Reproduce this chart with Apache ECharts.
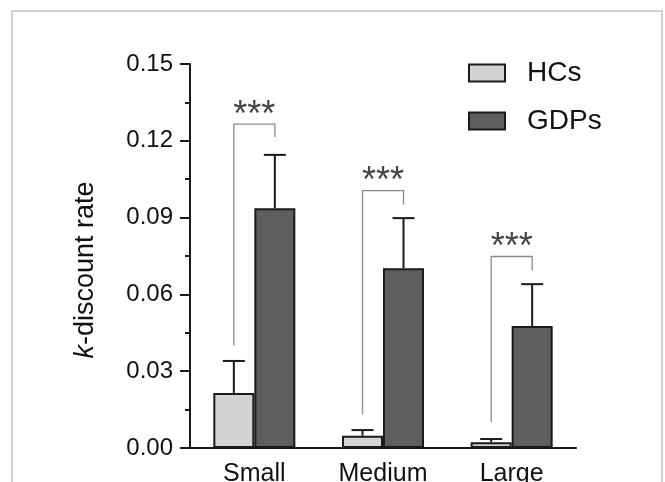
<!DOCTYPE html>
<html>
<head>
<meta charset="utf-8">
<script src="https://cdn.jsdelivr.net/npm/echarts@6/dist/echarts.min.js"></script>
<style>
  html, body { margin: 0; padding: 0; background: #fff; }
  #chart { width: 665px; height: 482px; }
</style>
</head>
<body>
<div id="chart"></div>
<script>
var categories = ['Small', 'Medium', 'Large'];
var hcMean = [0.0215, 0.0048, 0.0022];
var hcErr = [0.0340, 0.0070, 0.0035];
var gdpMean = [0.0937, 0.0702, 0.0477];
var gdpErr = [0.1145, 0.0898, 0.0640];
// bracket: [category, left foot, top, right foot]
var brackets = [
    [0, 0.040, 0.1265, 0.1215],
    [1, 0.0132, 0.1005, 0.0950],
    [2, 0.0102, 0.0748, 0.0693]
];
var starsY = [0.1298, 0.1037, 0.0781];
var yTicks = { min: 0, max: 0.15, interval: 0.03 };

var FONT = '"Liberation Sans", Arial, sans-serif';
var BAR_W = 41;

function errorSeries(name, means, tops, side) {
    var data = means.map(function (m, i) { return [i, m, tops[i]]; });
    return {
        type: 'custom',
        name: name + ' err',
        silent: true,
        z: 1,
        data: data,
        renderItem: function (params, api) {
            var base = api.coord([api.value(0), api.value(1)]);
            var top = api.coord([api.value(0), api.value(2)]);
            var x = base[0] + side * BAR_W / 2;
            return {
                type: 'group',
                children: [
                    { type: 'line', shape: { x1: x, y1: base[1], x2: x, y2: top[1] },
                      style: { stroke: '#1a1a1a', lineWidth: 2 } },
                    { type: 'line', shape: { x1: x - 11, y1: top[1], x2: x + 11, y2: top[1] },
                      style: { stroke: '#1a1a1a', lineWidth: 2 } }
                ]
            };
        }
    };
}

var chart = echarts.init(document.getElementById('chart'));
chart.setOption({
    animation: false,
    backgroundColor: '#fff',
    textStyle: { fontFamily: FONT },
    graphic: [{
        type: 'rect',
        shape: { x: 12, y: 11, width: 650, height: 500 },
        style: { fill: 'none', stroke: '#cfcfcf', lineWidth: 2 },
        silent: true
    }],
    grid: { left: 190, right: 89, top: 64, bottom: 34, outerBoundsMode: 'none', containLabel: false },
    legend: {
        orient: 'vertical',
        left: 468,
        top: 59,
        padding: 0,
        itemWidth: 36,
        itemHeight: 17,
        itemGap: 20,
        icon: 'rect',
        textStyle: { fontSize: 28, color: '#111', padding: [0, 0, 0, 17] },
        data: ['HCs', 'GDPs']
    },
    xAxis: {
        type: 'category',
        data: categories,
        axisLine: { lineStyle: { color: '#1a1a1a', width: 2 } },
        axisTick: { show: false },
        axisLabel: { fontSize: 25, color: '#111', margin: 14 }
    },
    yAxis: {
        type: 'value',
        min: yTicks.min,
        max: yTicks.max,
        interval: yTicks.interval,
        name: '{i|k}-discount rate',
        nameLocation: 'middle',
        nameGap: 91,
        nameTextStyle: {
            fontSize: 27, color: '#111', padding: [0, 28, 0, 0],
            rich: { i: { fontSize: 27, fontStyle: 'italic', color: '#111' } }
        },
        axisLine: { show: true, lineStyle: { color: '#1a1a1a', width: 2 } },
        axisTick: { show: true, length: 10, lineStyle: { color: '#1a1a1a', width: 2 } },
        minorTick: { show: true, splitNumber: 2, length: 5, lineStyle: { color: '#1a1a1a', width: 2 } },
        splitLine: { show: false },
        axisLabel: {
            fontSize: 24, color: '#111', margin: 17,
            formatter: function (v) { return v.toFixed(2); }
        }
    },
    series: [
        {
            type: 'bar', name: 'HCs', data: hcMean,
            barWidth: BAR_W, barGap: '0%', z: 2,
            itemStyle: { color: '#d3d3d3', borderColor: '#1a1a1a', borderWidth: 2 }
        },
        {
            type: 'bar', name: 'GDPs', data: gdpMean,
            barWidth: BAR_W, barGap: '0%', z: 2,
            itemStyle: { color: '#5e5e5e', borderColor: '#1a1a1a', borderWidth: 2 }
        },
        errorSeries('HCs', hcMean, hcErr, -1),
        errorSeries('GDPs', gdpMean, gdpErr, 1),
        {
            type: 'custom',
            name: 'sig',
            silent: true,
            z: 3,
            data: brackets.map(function (b, i) { return b.concat([starsY[i]]); }),
            renderItem: function (params, api) {
                var c = api.value(0);
                var lf = api.coord([c, api.value(1)]);
                var tp = api.coord([c, api.value(2)]);
                var rf = api.coord([c, api.value(3)]);
                var st = api.coord([c, api.value(4)]);
                var xl = lf[0] - BAR_W / 2, xr = lf[0] + BAR_W / 2;
                return {
                    type: 'group',
                    children: [
                        { type: 'polyline',
                          shape: { points: [[xl, lf[1]], [xl, tp[1]], [xr, tp[1]], [xr, rf[1]]] },
                          style: { stroke: '#8a8a8a', lineWidth: 1.3, fill: 'none' } },
                        { type: 'text',
                          style: { x: st[0], y: st[1], text: '***', fontSize: 36, fontFamily: FONT,
                                   fill: '#444', align: 'center', verticalAlign: 'middle' } }
                    ]
                };
            }
        }
    ]
});
</script>
</body>
</html>
